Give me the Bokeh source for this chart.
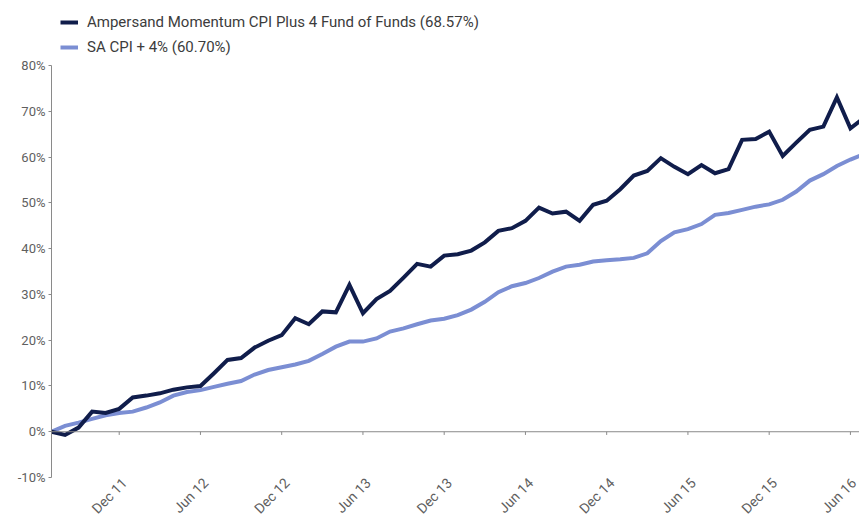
from math import pi
from bokeh.plotting import figure
from bokeh.models import (Range1d, FixedTicker, PrintfTickFormatter, Span,
                          Legend, LegendItem)
from bokeh.embed import file_html
from bokeh.resources import INLINE

# ---- data (cumulative return, %) ----
months = list(range(61))
fund = [0, -0.7, 0.9, 4.4, 4.1, 5.0, 7.5, 7.9, 8.4, 9.2, 9.7, 10.0,
        12.8, 15.7, 16.1, 18.4, 19.9, 21.1, 24.8, 23.5, 26.3, 26.1, 32.1, 25.9,
        29.0, 30.8, 33.7, 36.7, 36.1, 38.5, 38.8, 39.6, 41.4, 43.9, 44.5, 46.1,
        49.0, 47.7, 48.1, 46.1, 49.6, 50.5, 53.0, 56.0, 57.0, 59.8, 57.9, 56.3,
        58.3, 56.5, 57.4, 63.8, 64.0, 65.6, 60.3, 63.2, 66.0, 66.7, 73.1, 66.3,
        68.57]
cpi = [0, 1.3, 2.0, 2.8, 3.6, 4.1, 4.4, 5.3, 6.4, 7.9, 8.7, 9.1,
       9.8, 10.5, 11.1, 12.5, 13.5, 14.1, 14.7, 15.5, 17.0, 18.6, 19.7, 19.7,
       20.4, 21.9, 22.6, 23.5, 24.3, 24.7, 25.5, 26.7, 28.4, 30.5, 31.8, 32.5,
       33.6, 35.0, 36.1, 36.5, 37.2, 37.5, 37.7, 38.0, 39.0, 41.7, 43.6, 44.3,
       45.4, 47.4, 47.8, 48.5, 49.2, 49.7, 50.7, 52.5, 54.9, 56.3, 58.1, 59.5,
       60.70]
x_tick_pos = [5, 11, 17, 23, 29, 35, 41, 47, 53, 59]
x_tick_labels = ["Dec 11", "Jun 12", "Dec 12", "Jun 13", "Dec 13",
                 "Jun 14", "Dec 14", "Jun 15", "Dec 15", "Jun 16"]
y_ticks = [-10, 0, 10, 20, 30, 40, 50, 60, 70, 80]
series_names = ["Ampersand Momentum CPI Plus 4 Fund of Funds (68.57%)",
                "SA CPI + 4% (60.70%)"]

DARK = "#101d4b"
LIGHT = "#7b8ed3"
AXIS = "#8a8a8a"
TXT = "#5f5f5f"
FONT = "Roboto"
LABEL_SHIFT = 0.4   # nudges rotated labels right of their tick (layout only)

p = figure(width=859, height=527,
           x_range=Range1d(0, 59.67), y_range=Range1d(-10, 94.26),
           output_backend="svg", toolbar_location=None,
           min_border_left=51, min_border_right=0, min_border_top=0,
           min_border_bottom=50)
p.outline_line_color = None
p.grid.visible = False
p.background_fill_color = "white"

# y axis
ya = p.yaxis[0]
ya.ticker = FixedTicker(ticks=y_ticks)
ya.formatter = PrintfTickFormatter(format="%d%%")
ya.bounds = (-10, 80)
ya.axis_line_color = AXIS
ya.major_tick_line_color = AXIS
ya.major_tick_in = 0
ya.major_tick_out = 3
ya.minor_tick_line_color = None
ya.major_label_standoff = 3
ya.major_label_text_font = FONT
ya.major_label_text_font_size = "13px"
ya.major_label_text_color = TXT

# x labels axis (bottom)
label_pos = [t + LABEL_SHIFT for t in x_tick_pos]
xa = p.xaxis[0]
xa.ticker = FixedTicker(ticks=label_pos)
xa.major_label_overrides = {t: l for t, l in zip(label_pos, x_tick_labels)}
xa.axis_line_color = None
xa.major_tick_line_color = None
xa.minor_tick_line_color = None
xa.major_tick_in = 0
xa.major_tick_out = 0
xa.major_label_orientation = pi / 4
xa.major_label_standoff = 3
xa.major_label_text_font = FONT
xa.major_label_text_font_size = "14px"
xa.major_label_text_line_height = 1.0
xa.major_label_text_color = TXT

# zero line with downward tick marks
p.add_layout(Span(location=0, dimension="width", line_color=AXIS, line_width=1))
p.segment(x0=x_tick_pos, y0=[0] * len(x_tick_pos),
          x1=x_tick_pos, y1=[-0.7] * len(x_tick_pos),
          line_color=AXIS, line_width=1)

r2 = p.line(months, cpi, line_color=LIGHT, line_width=4, line_join="miter")
r1 = p.line(months, fund, line_color=DARK, line_width=4, line_join="miter")

legend = Legend(items=[LegendItem(label=series_names[0], renderers=[r1]),
                       LegendItem(label=series_names[1], renderers=[r2])],
                location=(9, 420))
legend.border_line_color = None
legend.background_fill_alpha = 0
legend.padding = 0
legend.margin = 0
legend.spacing = 5
legend.glyph_width = 18
legend.glyph_height = 20
legend.label_height = 20
legend.label_standoff = 9
legend.label_text_font = FONT
legend.label_text_font_size = "15px"
legend.label_text_color = "#3c3c3c"
p.add_layout(legend, "center")

open("out.html", "w").write(file_html(p, INLINE))
